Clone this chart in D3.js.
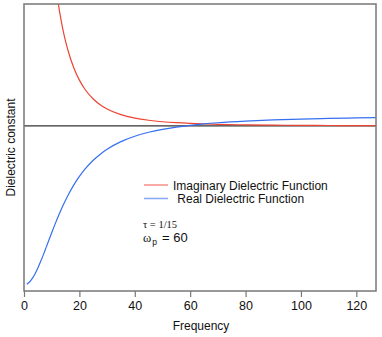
<!DOCTYPE html>
<html>
<head>
<meta charset="utf-8">
<script src="https://cdn.jsdelivr.net/npm/d3@7/dist/d3.min.js"></script>
<style>
  html, body { margin: 0; padding: 0; background: #fff; }
  svg { display: block; font-family: "Liberation Sans", Arial, Helvetica, sans-serif; }
</style>
</head>
<body>
<svg id="chart" width="382" height="337"></svg>
<script>
// Frequencies sampled along the curves
const frequency = [1, 2, 3, 4, 5, 6, 7, 8, 9, 10, 11, 12, 13, 14, 15, 16, 18, 20, 22, 25, 28, 30, 35, 40, 45, 50, 55, 60, 65, 70, 80, 90, 100, 110, 120, 127];
// Real dielectric function values
const realValues = [-14.929, -14.721, -14.385, -13.938, -13.4, -12.793, -12.139, -11.457, -10.765, -10.077, -9.405, -8.756, -8.137, -7.551, -7.0, -6.484, -5.557, -4.76, -4.078, -3.235, -2.568, -2.2, -1.483, -0.973, -0.6, -0.321, -0.108, 0.059, 0.191, 0.298, 0.457, 0.568, 0.648, 0.708, 0.754, 0.780];
// Imaginary dielectric function values (null where far above the plot)
const imagValues = [null, null, null, null, null, null, null, null, null, 16.615, 14.188, 12.195, 10.543, 9.162, 8.0, 7.017, 5.464, 4.32, 3.462, 2.541, 1.911, 1.6, 1.064, 0.740, 0.533, 0.396, 0.302, 0.235, 0.187, 0.151, 0.102, 0.072, 0.053, 0.040, 0.031, 0.026];
const xTicks = [0, 20, 40, 60, 80, 100, 120];
const seriesNames = ["Imaginary Dielectric Function", " Real Dielectric Function"];

(function () {
const svg = d3.select("#chart");
const pl = 24, pr = 376, pt = 4, pb = 291;
const x = d3.scaleLinear().domain([0, 127.1]).range([pl, pr]);
const y = d3.scaleLinear().domain([-15.57, 11.5]).range([pb, pt]);

svg.append("defs").append("clipPath").attr("id", "clip")
  .append("rect").attr("x", pl).attr("y", pt).attr("width", pr - pl).attr("height", pb - pt);

const redColor = "#ee4433", blueColor = "#3570f0";

// zero line
svg.append("line").attr("x1", pl).attr("x2", pr).attr("y1", y(0)).attr("y2", y(0))
  .attr("stroke", "#333").attr("stroke-width", 1.2);

const line = d3.line().defined(d => d[1] !== null)
  .x(d => x(d[0])).y(d => y(d[1])).curve(d3.curveMonotoneX);

const g = svg.append("g").attr("clip-path", "url(#clip)");
g.append("path").datum(frequency.map((f, i) => [f, imagValues[i]]))
  .attr("d", line).attr("fill", "none").attr("stroke", redColor).attr("stroke-width", 1.2);
g.append("path").datum(frequency.map((f, i) => [f, realValues[i]]))
  .attr("d", line).attr("fill", "none").attr("stroke", blueColor).attr("stroke-width", 1.2);

// box
svg.append("rect").attr("x", pl).attr("y", pt).attr("width", pr - pl).attr("height", pb - pt)
  .attr("fill", "none").attr("stroke", "#777").attr("stroke-width", 1.5);

// x axis
const xAxis = d3.axisBottom(x).tickValues(xTicks).tickSize(6).tickPadding(4);
const ax = svg.append("g").attr("transform", `translate(0,${pb})`).call(xAxis);
ax.select(".domain").remove();
ax.selectAll(".tick line").attr("stroke", "#777").attr("stroke-width", 1.2);
ax.selectAll(".tick text").attr("font-size", 12.5).attr("fill", "#111")
  .attr("font-family", "\"Liberation Sans\", Arial, sans-serif");

svg.append("text").attr("x", (pl + pr) / 2 + 1).attr("y", 330).attr("text-anchor", "middle")
  .attr("font-size", 12).attr("fill", "#111").text("Frequency");

svg.append("text").attr("transform", `translate(15,${(pt + pb) / 2}) rotate(-90)`)
  .attr("text-anchor", "middle").attr("font-size", 12).attr("fill", "#111").text("Dielectric constant");

// legend
const legend = [
  { name: seriesNames[0], color: redColor, ly: 185, tx: 173, ty: 189.5 },
  { name: seriesNames[1], color: blueColor, ly: 198.5, tx: 174, ty: 203 }
];
legend.forEach(d => {
  svg.append("line").attr("x1", 144).attr("x2", 168).attr("y1", d.ly).attr("y2", d.ly)
    .attr("stroke", d.color).attr("stroke-opacity", 0.6).attr("stroke-width", 1.5);
  svg.append("text").attr("x", d.tx).attr("y", d.ty).attr("font-size", 12).attr("fill", "#111")
    .attr("xml:space", "preserve").style("white-space", "pre").text(d.name);
});

// parameters
svg.append("text").attr("x", 143).attr("y", 227.5).attr("font-family", "\"Liberation Serif\", serif")
  .attr("font-size", 10.5).attr("fill", "#111").text("τ = 1/15");
const wp = svg.append("text").attr("x", 143).attr("y", 241.5).attr("fill", "#111");
wp.append("tspan").attr("font-family", "\"Liberation Serif\", serif").attr("font-size", 12.5).text("ω");
wp.append("tspan").attr("font-size", 8.5).attr("dy", 3).attr("dx", 1).text("p");
wp.append("tspan").attr("font-size", 13).attr("dy", -3).attr("x", 162).text("= 60");
})();
</script>
</body>
</html>
